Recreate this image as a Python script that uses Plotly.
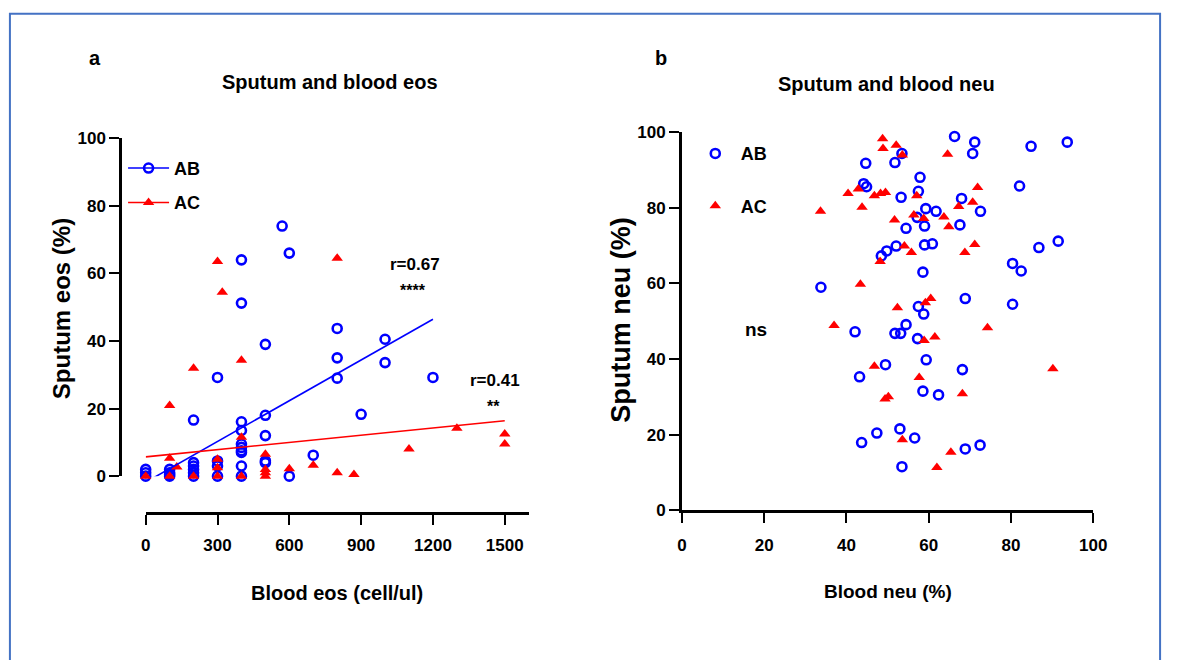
import plotly.graph_objects as go

W, H = 1179, 660

# ---------------- data: panel a (Sputum vs blood eos) ----------------
eos_ab_x = [0, 0, 0, 100, 100, 100, 100, 200, 200, 200, 200, 200, 200, 300, 300, 300, 300,
            400, 400, 400, 400, 400, 400, 400, 400, 400, 400, 500, 500, 500, 500, 500,
            570, 600, 600, 700, 800, 800, 800, 900, 1000, 1000, 1200]
eos_ab_y = [2, 1, 0, 2, 1, 0.5, 0, 4, 3, 2, 1, 0, 16.6, 29.2, 4.5, 3, 0,
            64, 51.2, 16.1, 13.5, 9.5, 8.5, 7.5, 7, 3, 0, 39, 18, 12, 4.5, 4,
            74, 66, 0, 6.2, 43.7, 35, 29, 18.3, 40.5, 33.6, 29.2]
eos_ac_x = [0, 100, 100, 100, 130, 200, 200, 300, 300, 300, 300, 320, 400, 400, 400,
            500, 500, 500, 500, 600, 700, 800, 800, 870, 1100, 1300, 1500, 1500]
eos_ac_y = [0, 20.9, 5.3, 0, 2.7, 31.9, 0, 63.5, 5, 2.5, 0, 54.4, 34.3, 11.5, 0,
            6.5, 2, 1, 0, 2.2, 3.2, 64.5, 1, 0.5, 8, 14.2, 12.5, 9.5]
# regression lines: (intercept, slope, x-range)
ab_fit = dict(b0=-1.8, b1=0.0402, xr=[0, 1200])
ac_fit = dict(b0=5.7, b1=0.00713, xr=[0, 1500])
eos_xticks = [0, 300, 600, 900, 1200, 1500]
eos_yticks = [0, 20, 40, 60, 80, 100]

# ---------------- data: panel b (Sputum vs blood neu) ----------------
neu_ab = [(66.3, 98.9), (71.2, 97.4), (93.7, 97.4), (84.9, 96.3), (70.7, 94.4), (53.5, 94.4),
          (44.7, 91.8), (51.8, 92.0), (57.9, 88.1), (44.2, 86.4), (44.9, 85.6), (82.1, 85.8),
          (57.5, 84.4), (53.3, 82.8), (68.0, 82.5), (59.3, 79.8), (61.8, 79.1), (72.6, 79.1),
          (57.2, 77.5), (59.0, 75.2), (54.5, 74.6), (67.6, 75.5), (59.0, 70.2), (60.9, 70.5),
          (52.1, 69.9), (49.8, 68.6), (48.5, 67.3), (58.6, 63.0), (80.4, 65.3), (82.5, 63.3),
          (86.8, 69.5), (91.5, 71.2), (33.8, 59.0), (68.9, 56.0), (80.4, 54.5), (57.5, 53.9),
          (58.8, 51.9), (54.5, 49.1), (42.1, 47.2), (51.8, 46.8), (53.2, 46.8), (57.3, 45.4),
          (59.4, 39.8), (49.5, 38.5), (68.2, 37.2), (43.2, 35.3), (58.6, 31.5), (62.4, 30.5),
          (53.0, 21.5), (47.4, 20.4), (56.6, 19.1), (43.7, 17.9), (68.9, 16.2), (72.5, 17.2),
          (53.5, 11.5)]
neu_ac = [(48.8, 98.3), (48.9, 95.7), (52.1, 96.6), (53.6, 94.0), (64.6, 94.2), (71.9, 85.4),
          (40.4, 83.8), (42.9, 85.0), (43.8, 80.2), (46.8, 83.2), (48.3, 83.8), (49.5, 84.1),
          (57.1, 83.2), (33.7, 79.1), (67.3, 80.4), (70.7, 81.5), (51.7, 76.8), (56.4, 78.1),
          (58.8, 77.2), (63.7, 77.6), (64.9, 75.0), (54.1, 69.9), (55.8, 68.2), (68.8, 68.2),
          (71.2, 70.3), (48.2, 65.8), (43.4, 59.8), (52.4, 53.6), (59.2, 54.9), (60.5, 56.0),
          (37.0, 48.9), (74.3, 48.3), (58.9, 44.9), (61.5, 45.8), (46.8, 38.1), (90.2, 37.4),
          (57.7, 35.1), (49.4, 29.4), (50.2, 30.0), (68.2, 30.8), (53.6, 18.6), (65.4, 15.3),
          (62.0, 11.3)]
neu_ab_x = [p[0] for p in neu_ab]
neu_ab_y = [p[1] for p in neu_ab]
neu_ac_x = [p[0] for p in neu_ac]
neu_ac_y = [p[1] for p in neu_ac]
neu_ticks = [0, 20, 40, 60, 80, 100]

BLUE = "#0000FF"
RED = "#FF0000"
FONT = "Liberation Sans, Arial, sans-serif"


def px(p):
    return p / W


def py(p):
    return 1 - p / H


blue_marker = dict(symbol="circle-open", size=9, color=BLUE, line=dict(width=2.6, color=BLUE))
red_marker = dict(symbol="triangle-up", size=10, color=RED)

fig = go.Figure()

# panel a data
fig.add_trace(go.Scatter(x=eos_ab_x, y=eos_ab_y, mode="markers", marker=blue_marker,
                         cliponaxis=False, showlegend=False, xaxis="x", yaxis="y"))
fig.add_trace(go.Scatter(x=eos_ac_x, y=eos_ac_y, mode="markers", marker=red_marker,
                         cliponaxis=False, showlegend=False, xaxis="x", yaxis="y"))
for fit, col in ((ab_fit, BLUE), (ac_fit, RED)):
    xs = fit["xr"]
    ys = [fit["b0"] + fit["b1"] * v for v in xs]
    fig.add_trace(go.Scatter(x=xs, y=ys, mode="lines", line=dict(color=col, width=1.6),
                             showlegend=False, xaxis="x", yaxis="y"))
# panel a legend entries (line + marker)
fig.add_trace(go.Scatter(x=[None], y=[None], mode="lines+markers", name="AB",
                         marker=blue_marker, line=dict(color=BLUE, width=1.6),
                         legend="legend", legendgroup="ab1", xaxis="x", yaxis="y"))
fig.add_trace(go.Scatter(x=[None], y=[None], mode="lines+markers", name="AC",
                         marker=red_marker, line=dict(color=RED, width=1.6),
                         legend="legend", legendgroup="ac1", xaxis="x", yaxis="y"))

# panel b data
fig.add_trace(go.Scatter(x=neu_ab_x, y=neu_ab_y, mode="markers", marker=blue_marker, name="AB",
                         cliponaxis=False, legend="legend2", legendgroup="ab2",
                         xaxis="x2", yaxis="y2"))
fig.add_trace(go.Scatter(x=neu_ac_x, y=neu_ac_y, mode="markers", marker=red_marker, name="AC",
                         cliponaxis=False, legend="legend2", legendgroup="ac2",
                         xaxis="x2", yaxis="y2"))

axis_common = dict(showgrid=False, zeroline=False, showline=True, linecolor="black",
                   linewidth=2.6, ticks="outside", ticklen=10, tickwidth=2.4,
                   tickcolor="black",
                   tickfont=dict(family=FONT, size=17, color="black", weight="bold"))

fig.update_layout(
    width=W, height=H, margin=dict(l=0, r=0, t=0, b=0),
    paper_bgcolor="white", plot_bgcolor="rgba(0,0,0,0)",
    xaxis=dict(axis_common, domain=[px(143), px(533)], range=[0, 1603],
               tickvals=eos_xticks, anchor="free", position=py(519), ticklabelstandoff=6),
    yaxis=dict(axis_common, domain=[py(481), py(133)], range=[0, 100],
               tickvals=eos_yticks, anchor="free", position=px(117)),
    xaxis2=dict(axis_common, domain=[px(688), px(1106)], range=[0, 100],
                tickvals=neu_ticks, anchor="y2", ticklabelstandoff=8),
    yaxis2=dict(axis_common, domain=[py(516), py(127)], range=[0, 100],
                tickvals=neu_ticks, anchor="x2"),
    legend=dict(x=px(120), y=py(145), xanchor="left", yanchor="top",
                bgcolor="rgba(0,0,0,0)", itemwidth=41, tracegroupgap=8,
                font=dict(family=FONT, size=18, color="black", weight="bold")),
    legend2=dict(x=px(696), y=py(130), xanchor="left", yanchor="top",
                 bgcolor="rgba(0,0,0,0)", itemwidth=41, tracegroupgap=26,
                 font=dict(family=FONT, size=18, color="black", weight="bold")),
)


def ann(text, x, y, size, angle=0):
    fig.add_annotation(text=text, x=px(x), y=py(y), xref="paper", yref="paper",
                       showarrow=False, textangle=angle, xanchor="center", yanchor="middle",
                       font=dict(family=FONT, size=size, color="black", weight="bold"))


ann("a", 91, 50, 20)
ann("Sputum and blood eos", 330, 75, 20)
ann("b", 667, 50, 20)
ann("Sputum and blood neu", 896, 77, 20)
ann("Sputum eos (%)", 57, 309, 24, -90)
ann("Sputum neu (%)", 626, 320, 27, -90)
ann("Blood eos (cell/ul)", 337, 601, 20)
ann("Blood neu (%)", 897, 600, 19)
ann("r=0.67", 417, 263, 17)
ann("****", 415, 290, 16)
ann("r=0.41", 498, 382, 17)
ann("**", 497, 409, 16)
ann("ns", 763, 330, 19)

# outer blue frame (bottom edge lies below the visible page)
fig.add_shape(type="rect", xref="paper", yref="paper",
              x0=px(5), x1=px(1174), y0=py(740), y1=py(5),
              line=dict(color="#4472C4", width=2), fillcolor="rgba(0,0,0,0)")

fig.write_html("out.html", config={"displayModeBar": False},
               post_script="document.body.style.margin='0';document.body.style.overflow='hidden';")
